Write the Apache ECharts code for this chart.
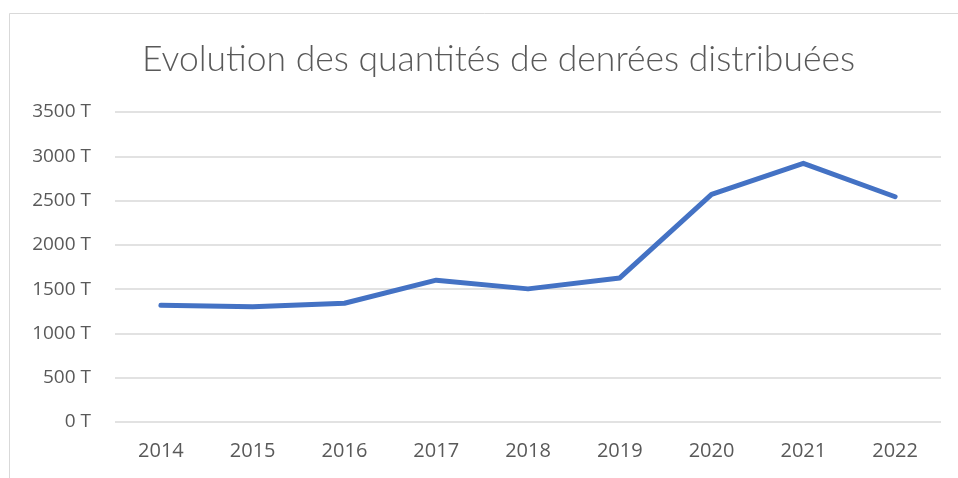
<!DOCTYPE html>
<html><head><meta charset="utf-8">
<script src="https://cdn.jsdelivr.net/npm/echarts@6/dist/echarts.min.js"></script>
<style>html,body{margin:0;padding:0;background:#fff}#c{width:958px;height:478px}</style>
</head><body><div id="c"></div>
<script>
var years = ['2014','2015','2016','2017','2018','2019','2020','2021','2022'];
var tonnes = [1319, 1300, 1341, 1601, 1503, 1627, 2570, 2920, 2543];
var titleText = 'Evolution des quantités de denrées distribuées';

var chart = echarts.init(document.getElementById('c'), null, {renderer:'canvas'});
chart.setOption({
  animation:false,
  backgroundColor:'#fff',
  title:{text:titleText,left:137,top:37,
    textStyle:{fontFamily:'Lato',fontWeight:300,fontSize:35.5,color:'#595959'}},
  graphic:[{type:'rect',shape:{x:9.5,y:13.5,width:1000,height:500},
    style:{fill:'none',stroke:'#d9d9d9',lineWidth:1},silent:true}],
  grid:{left:115,right:17,top:112,bottom:56,containLabel:false},
  xAxis:{type:'category',data:years,boundaryGap:true,
    axisLine:{show:false},axisTick:{show:false},
    axisLabel:{color:'#595959',fontFamily:'Open Sans',fontSize:20,margin:19}},
  yAxis:{type:'value',min:0,max:3500,interval:500,
    axisLine:{show:false},axisTick:{show:false},
    splitLine:{lineStyle:{color:'#d9d9d9',width:1.5}},
    axisLabel:{color:'#595959',fontFamily:'Open Sans',fontSize:19,margin:24,
      formatter:function(v){return v+' T';}}},
  series:[{type:'line',data:tonnes,symbol:'none',
    lineStyle:{color:'#4472C4',width:5,cap:'round',join:'round'}}]
});
</script></body></html>
